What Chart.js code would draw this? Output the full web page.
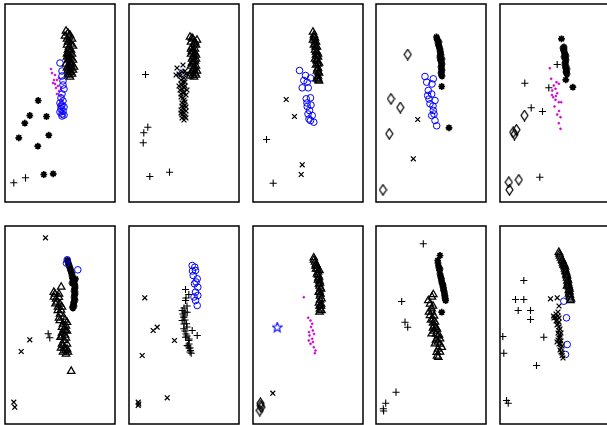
<!DOCTYPE html>
<html>
<head>
<meta charset="utf-8">
<script src="https://cdn.jsdelivr.net/npm/chart.js@4.4.1/dist/chart.umd.min.js"></script>
<style>
html,body{margin:0;padding:0;background:#fff;overflow:hidden}
#wrap{position:relative;width:607px;height:425px;overflow:hidden}
#wrap canvas{position:absolute}
</style>
</head>
<body>
<div id="wrap"></div>
<script>
// coordinates inside each panel: x 0..110 (left->right), y 0..198 (bottom->top)

// panel 1
const p1_tri=[[61,171],[63,169],[60,166],[64,165],[62,163],[67,163],[65,167],[62,157],[64,155],[63,152],[65,150],[62,148],[64,146],[66,144],[63,142],[65,140],[67,138],[64,136],[66,134],[63,132],[65,130],[67,128],[64,127],[62,145],[66,152],[68,142],[61,138],[65,135],
  [63,160],[66,158],[64,161],[68,156],[63,149],[67,148],[64,143],[66,137],[62,134],[68,132],[66,130],[63,128],[69,135],[65,125]];
const p1_circ=[[55,139],[57,131],[57,126],[58,121],[58,117],[59,113],[57,108],[56,104],[58,101],[55,99],[57,97],[59,95],[56,93],[58,91],[55,90],[57,88],[59,87],[57,86],[56,96]];
const p1_dot=[[46,133],[47,129],[50,127],[49,122],[52,122],[48,119],[51,114],[53,116],[54,111],[56,107],[52,108],[57,102],[55,97],[57,92],[58,88],[54,124],[56,113],[50,118]];
const p1_ast=[[33.2,101.5],[24.8,86.5],[41.5,85.5],[19.8,78.8],[13.8,64.2],[43.8,66.8],[32.8,55.8],[38.8,27.5],[48.2,28.2]];
const p1_plus=[[8.8,19.2],[20.5,24.2]];

// panel 2
const p2_tri=[[61,165],[68,162],[64,163],[62,160],[65,158],[63,155],[66,153],[64,150],[62,148],[65,146],[63,143],[66,141],[64,138],[62,136],[65,134],[63,131],[66,129],[64,127],[61,126],[67,127],[62,153],[67,147],
  [63,164],[66,160],[67,157],[63,151],[66,149],[64,145],[67,143],[65,140],[63,139],[67,136],[65,132],[62,129],[68,131],[65,125]];
const p2_x=[[48,134],[54,137],[47,127],[51,126],[55,124],[57,128],[52,122],[56,120],[53,117],[55,114],[51,112],[54,109],[57,107],[52,105],[55,102],[53,99],[56,97],[54,94],[52,92],[55,89],[57,91],[53,87],[56,85],[58,112],[50,116],
  [53,130],[56,131],[50,128],[54,120],[52,118],[56,116],[53,113],[55,110],[52,108],[54,104],[56,100],[53,96],[55,93],[57,95],[54,90],[52,89],[55,86],[57,84],[55,82],[53,84]];
const p2_circ=[[53.2,128.8]];
const p2_plus=[[16.5,127.5],[18.8,74.8],[14.8,69.2],[14.2,59.2],[20.8,25.5],[40.5,29.8]];

// panel 3
const p3_tri=[[60,170],[61,167],[62,164],[60,162],[63,160],[61,157],[64,155],[62,152],[64,150],[63,147],[65,145],[62,143],[64,141],[66,139],[63,137],[65,134],[64,131],[66,129],[65,126],[64,123],[66,121],[62,158],[65,148],
  [61,165],[62,161],[62.5,155],[63,150],[64,146],[63.5,142],[65,138],[64.5,133],[65.5,130],[65,124],[65.5,122]];
const p3_circ=[[46.5,131.5],[52.5,126.5],[50.8,121.5],[54.2,119.8],[49.2,114.2],[55.2,114.2],[57.5,124],[53.2,103.2],[57.5,104.2],[54.2,95.5],[56.5,91.5],[59.2,86.5],[57.5,81.5],[60.8,79.8],[56,83],[55,88],[54,99],[58,97]];
const p3_x=[[33.2,102.5],[41.5,85.5],[49.2,37.2],[48.2,27.5]];
const p3_plus=[[13.5,62.5],[20.2,18.8]];

// panel 4
const p4_ast=[[60.5,165],[61.5,162],[62,159],[63,156],[64,153],[64.5,150],[65,147],[64,144],[65,141],[66,138],[65,135],[66,132],[65,129],[66,126],[63,160],[64,146],[66,143],[65.7,115.5],[73,74.2],
  [61,163],[62.5,157],[63.5,154],[64,151],[64.5,148],[64.5,142],[65.5,139],[65.5,136],[65.5,133],[65.5,130],[65.5,127]];
const p4_circ=[[49,125.5],[57.3,123.2],[50.7,119.8],[56,118],[52.3,111.5],[55.7,108],[51.7,106.5],[59,101.5],[54,98.2],[57,96],[57.3,91.5],[55.7,86.5],[59,81.5],[60.7,76.2],[53,103],[58,88]];
const p4_dia=[[31.7,147.5],[15,103.2],[24.3,94.5],[13.3,68.2],[7,12.2]];
const p4_x=[[41.7,82.5],[37.3,43.2]];

// panel 5
const p5_ast=[[61.5,163.2],[63,154],[64,151],[65,148],[64,145],[66,142],[65,139],[66,136],[67,133],[66,130],[67,128],[64,155],[66,146],[65,137],[65.8,122.2],[72.8,114.8],
  [63.5,152],[64.5,149],[65,146],[65.5,143],[65.5,140],[65.5,134],[66.5,131],[66.5,129],[64,153]];
const p5_plus=[[57.2,137.5],[24.8,118.8],[48.8,114.2],[31.2,94.2],[42.5,90.5],[39.8,24.8]];
const p5_dot=[[49.8,133.8],[51.2,123.2],[56.5,119.8],[58.8,118.2],[53.8,116.5],[55.5,113.2],[52.2,111.5],[57.2,108.8],[53.2,104.8],[55.5,102.2],[58.8,99.8],[54.5,95.5],[57.2,87.5],[60.5,84.8],[58.8,78.8],[60.5,73.2],[61.2,99.8],[56,106],[52,107],[59,91]];
const p5_dia=[[24.5,86.5],[13.2,69.8],[16.5,72.2],[14.5,67.5],[8.8,19.8],[18.8,22.2],[9.5,12.2]];

// panel 6
const p6_x=[[40.5,186.2],[24.8,84.2],[16.2,72.5],[8.8,21.8],[9.8,16.8]];
const p6_circ=[[62.2,164.2],[61.5,160.8],[72.8,154.2]];
const p6_ast=[[62.5,164],[63.5,160],[64.5,157],[65.5,154],[66.5,151],[67,148],[68,145],[69,142],[69.5,139],[70,136],[69,133],[70,130],[69,127],[70,124],[68.5,121],[69,118],[68,116],[67,141],[70.5,145],
  [63,162],[64,159],[65,156],[66,153],[67,150],[67.5,146],[68.5,143],[69.5,140],[70,138],[69.5,135],[70,132],[69.5,129],[69.5,125],[69,122],[68.5,119],[67.5,117]];
const p6_tri=[[48.8,131.8],[56.2,137],[53.8,126.8],[50.5,120.2],[57,117],[52.8,113.5],[58.5,107],[54.8,103.5],[62,101.8],[57,96.8],[60.5,93.5],[55.5,86.8],[59,83.5],[58.2,78.5],[60.5,73.5],[62,75],[56,76],[60,89],[51,125],[55,110],[61,98],[57,91],[66.2,52.8],
  [50,130],[54,130],[52,122],[55,120],[56,114],[54,106],[60,104],[58,100],[59,95],[62,93],[57,88],[61,86],[57,80],[62,80],[59,76],[63,72],[58,72],[61,70],[53,117],[49,127]];
const p6_plus=[[43.2,90.2],[44.8,86.2]];

// panel 7
const p7_circ=[[63.2,158.5],[65.8,156.8],[66.5,153.5],[64.2,148.5],[68.2,145.2],[65.5,140.2],[68.8,136.8],[66.5,131.8],[68.8,128.5],[66.5,123.5],[68.2,118.5],[63.5,153],[67,142],[65,127]];
const p7_plus=[[56.5,134.5],[59.8,129.5],[56.5,123.5],[58,118],[53.2,113.5],[58.2,111.8],[54.8,106.8],[53.2,103.5],[57.5,100.2],[54.8,95.2],[63.2,93.5],[68.2,88.5],[56.5,86.8],[59.8,83.5],[58.2,78.5],[61.5,73.5],[62.2,70.8],[60,80],[55,108],[57,90],[61,76],
  [57,126],[55,116],[56,112],[54,110],[56,104],[55,100],[58,97],[56,93],[58,88],[60,85],[59,78],[61,72],[60,76]];
const p7_x=[[15.8,126.2],[24.2,93.5],[28.2,96.8],[45.5,83.5],[13.2,68.5],[38.2,26.2],[9.2,21.8],[9.2,18.5],[9.8,20]];

// panel 8
const p8_tri=[[60.8,166.2],[62,162],[64,158],[63,155],[66.5,153.5],[64,150],[66,147],[65,144],[67,141],[66.5,138],[68,135],[65.8,131.8],[68.5,125.2],[67,128],[66,121],[68,118],[68.5,113.5],[66.5,112],[63,160],[65,152],
  [61,164],[62.5,158],[64.5,155],[65,149],[65.5,146],[66.5,143],[66,140],[67.5,136],[66.5,133],[67.5,130],[67,124],[66.5,118],[67,115],[68,120]];
const p8_dot=[[50.8,126.8],[55.2,106.2],[57.5,103.5],[59.2,100.2],[59.8,93.5],[56.5,88.5],[59.2,85.2],[57.5,80.2],[60.8,76.8],[62.5,73.5],[61.8,70.8],[55.8,83.5],[58,97],[61,90],[56,92],[60,82]];
const p8_bstar=[[24.2,96.8]];
const p8_x=[[19.8,30.8]];
const p8_dia=[[7.5,20.8],[8.2,16.8],[6.8,13.5],[7.8,18.5]];

// panel 9
const p9_ast=[[64,168.5],[61.7,163.5],[62.5,158],[63.5,153.5],[64,150],[65,146],[65.5,143],[66.5,140],[67,137],[67.5,134],[68.5,131],[69,128],[69.7,123.5],[65.7,111.8],[64,155],
  [62,161],[63,156],[64.5,148],[65.5,145],[66,141],[67,139],[67.5,136],[68,133],[68.5,129],[69,126],[69.3,125]];
const p9_tri=[[57.3,129.5],[52.3,123.5],[55.7,115.2],[54,108.5],[57,105],[59.7,96.8],[55.7,90.2],[64,85.2],[59,80.2],[65.7,76.8],[60.7,71.8],[62.3,66.8],[53,112],[57,101],[62,88],[58,93],
  [56,127],[54,120],[57,118],[56,112],[58,108],[55,104],[59,102],[58,98],[61,95],[57,96],[60,90],[63,89],[62,82],[60,84],[64,80],[62,75],[64,72],[61,68]];
const p9_plus=[[47.3,180.2],[25.7,122.5],[29,101.8],[31.7,96.8],[20,31.8],[9.7,20.8],[7.3,15.2],[7.6,13]];

// panel 10
const p10_tri=[[58.8,171.8],[60,168],[62,164],[63,161],[64.5,158],[65,155],[66,152],[66.5,149],[67,146],[67.5,143],[68.5,139],[68.8,133.5],[69,130],[70.5,123.5],[70,127],[64,160],
  [59.5,170],[61,166],[62.5,163],[63.5,159],[65,157],[65.5,153],[66.5,150],[67,148],[68,144],[68,141],[69,137],[69.5,135],[69.5,132],[70,129],[71,125],[67,138]];
const p10_x=[[50.5,125.2],[57.2,126.2],[59,118],[58,112],[55.5,106.8],[57,104],[53.5,108],[58,100],[59,97],[58.8,93.5],[60,89],[59,86],[57,82],[60.5,80.2],[61,76],[62.2,68.5],[61,72],
  [56,110],[58,108],[59,106],[56,103],[59,102],[57,99],[60,95],[58,91],[61,91],[60,87],[58,84],[61,83],[59,80],[62,78],[60,74],[62,71],[63,66],[54,106]];
const p10_circ=[[63.8,122.8],[66.5,106.2],[67.2,79.5],[65.5,69.5]];
const p10_plus=[[23.8,143.5],[15.5,124.5],[23.8,124.5],[18.2,113.5],[30.5,113.5],[30.5,104.5],[2.8,87.5],[43.8,86.8],[3.8,70.8],[36.5,58.5],[6.5,23.5],[8.2,20.8]];

const colLeft=[4.5,128.5,252.5,376,499.5];
const rowTop=[3.5,225.5];
const panelW=110, panelH=198;

// small custom markers
function diamondImg(){
  const c=document.createElement('canvas');c.width=9;c.height=12;
  const g=c.getContext('2d');g.strokeStyle='#000';g.lineWidth=1.2;
  g.beginPath();g.moveTo(4.5,0.8);g.lineTo(8,6);g.lineTo(4.5,11.2);g.lineTo(1,6);g.closePath();g.stroke();
  return c;
}
function starImg(){
  const c=document.createElement('canvas');c.width=11;c.height=11;
  const g=c.getContext('2d');g.strokeStyle='#0000ff';g.lineWidth=1.1;
  g.beginPath();
  for(let i=0;i<10;i++){
    const r=i%2?2.2:5,a=-Math.PI/2+i*Math.PI/5;
    const px=5.5+r*Math.cos(a),py=5.8+r*Math.sin(a);
    i?g.lineTo(px,py):g.moveTo(px,py);
  }
  g.closePath();g.stroke();
  return c;
}

const styles={
  tri:{pointStyle:'triangle',pointRadius:4.3,borderColor:'#000',backgroundColor:'rgba(0,0,0,0)',borderWidth:1.25},
  circ:{pointStyle:'circle',pointRadius:3.3,borderColor:'#0000ff',backgroundColor:'rgba(0,0,0,0)',borderWidth:1},
  dot:{pointStyle:'circle',pointRadius:1,borderColor:'#cc00cc',backgroundColor:'#cc00cc',borderWidth:0.6},
  ast:{pointStyle:'star',pointRadius:3.4,borderColor:'#000',backgroundColor:'#000',borderWidth:1.7},
  plus:{pointStyle:'cross',pointRadius:3.6,borderColor:'#000',borderWidth:1.1},
  x:{pointStyle:'crossRot',pointRadius:3.4,borderColor:'#000',borderWidth:1.3},
  dia:{pointStyle:diamondImg()},
  bstar:{pointStyle:starImg()}
};

const panels=[
  [0,0,[['tri',p1_tri],['circ',p1_circ],['dot',p1_dot],['ast',p1_ast],['plus',p1_plus]]],
  [1,0,[['tri',p2_tri],['x',p2_x],['circ',p2_circ],['plus',p2_plus]]],
  [2,0,[['tri',p3_tri],['circ',p3_circ],['x',p3_x],['plus',p3_plus]]],
  [3,0,[['ast',p4_ast],['circ',p4_circ],['dia',p4_dia],['x',p4_x]]],
  [4,0,[['ast',p5_ast],['plus',p5_plus],['dot',p5_dot],['dia',p5_dia]]],
  [0,1,[['circ',p6_circ],['ast',p6_ast],['tri',p6_tri],['x',p6_x],['plus',p6_plus]]],
  [1,1,[['circ',p7_circ],['plus',p7_plus],['x',p7_x]]],
  [2,1,[['tri',p8_tri],['dot',p8_dot],['bstar',p8_bstar],['x',p8_x],['dia',p8_dia]]],
  [3,1,[['ast',p9_ast],['tri',p9_tri],['plus',p9_plus]]],
  [4,1,[['tri',p10_tri],['x',p10_x],['circ',p10_circ],['plus',p10_plus]]]
];

const frame={
  id:'frame',
  afterDraw(ch){
    const a=ch.chartArea,g=ch.ctx;
    g.save();g.strokeStyle='#000';g.lineWidth=1.5;
    g.strokeRect(a.left,a.top,a.right-a.left,a.bottom-a.top);
    g.restore();
  }
};

const wrap=document.getElementById('wrap');
const pad=2;
panels.forEach(([c,r,sets])=>{
  const cv=document.createElement('canvas');
  cv.width=panelW+2*pad;cv.height=panelH+2*pad;
  cv.style.left=(colLeft[c]-pad)+'px';cv.style.top=(rowTop[r]-pad)+'px';
  cv.style.width=(panelW+2*pad)+'px';cv.style.height=(panelH+2*pad)+'px';
  wrap.appendChild(cv);
  new Chart(cv,{
    type:'scatter',
    data:{datasets:sets.map(([k,d])=>Object.assign({data:d,showLine:false},styles[k]))},
    options:{
      responsive:false,animation:false,devicePixelRatio:1,
      layout:{padding:pad,autoPadding:false},
      plugins:{legend:{display:false},tooltip:{enabled:false}},
      scales:{
        x:{type:'linear',min:0,max:panelW,display:false},
        y:{type:'linear',min:0,max:panelH,display:false}
      }
    },
    plugins:[frame]
  });
});
</script>
</body>
</html>
